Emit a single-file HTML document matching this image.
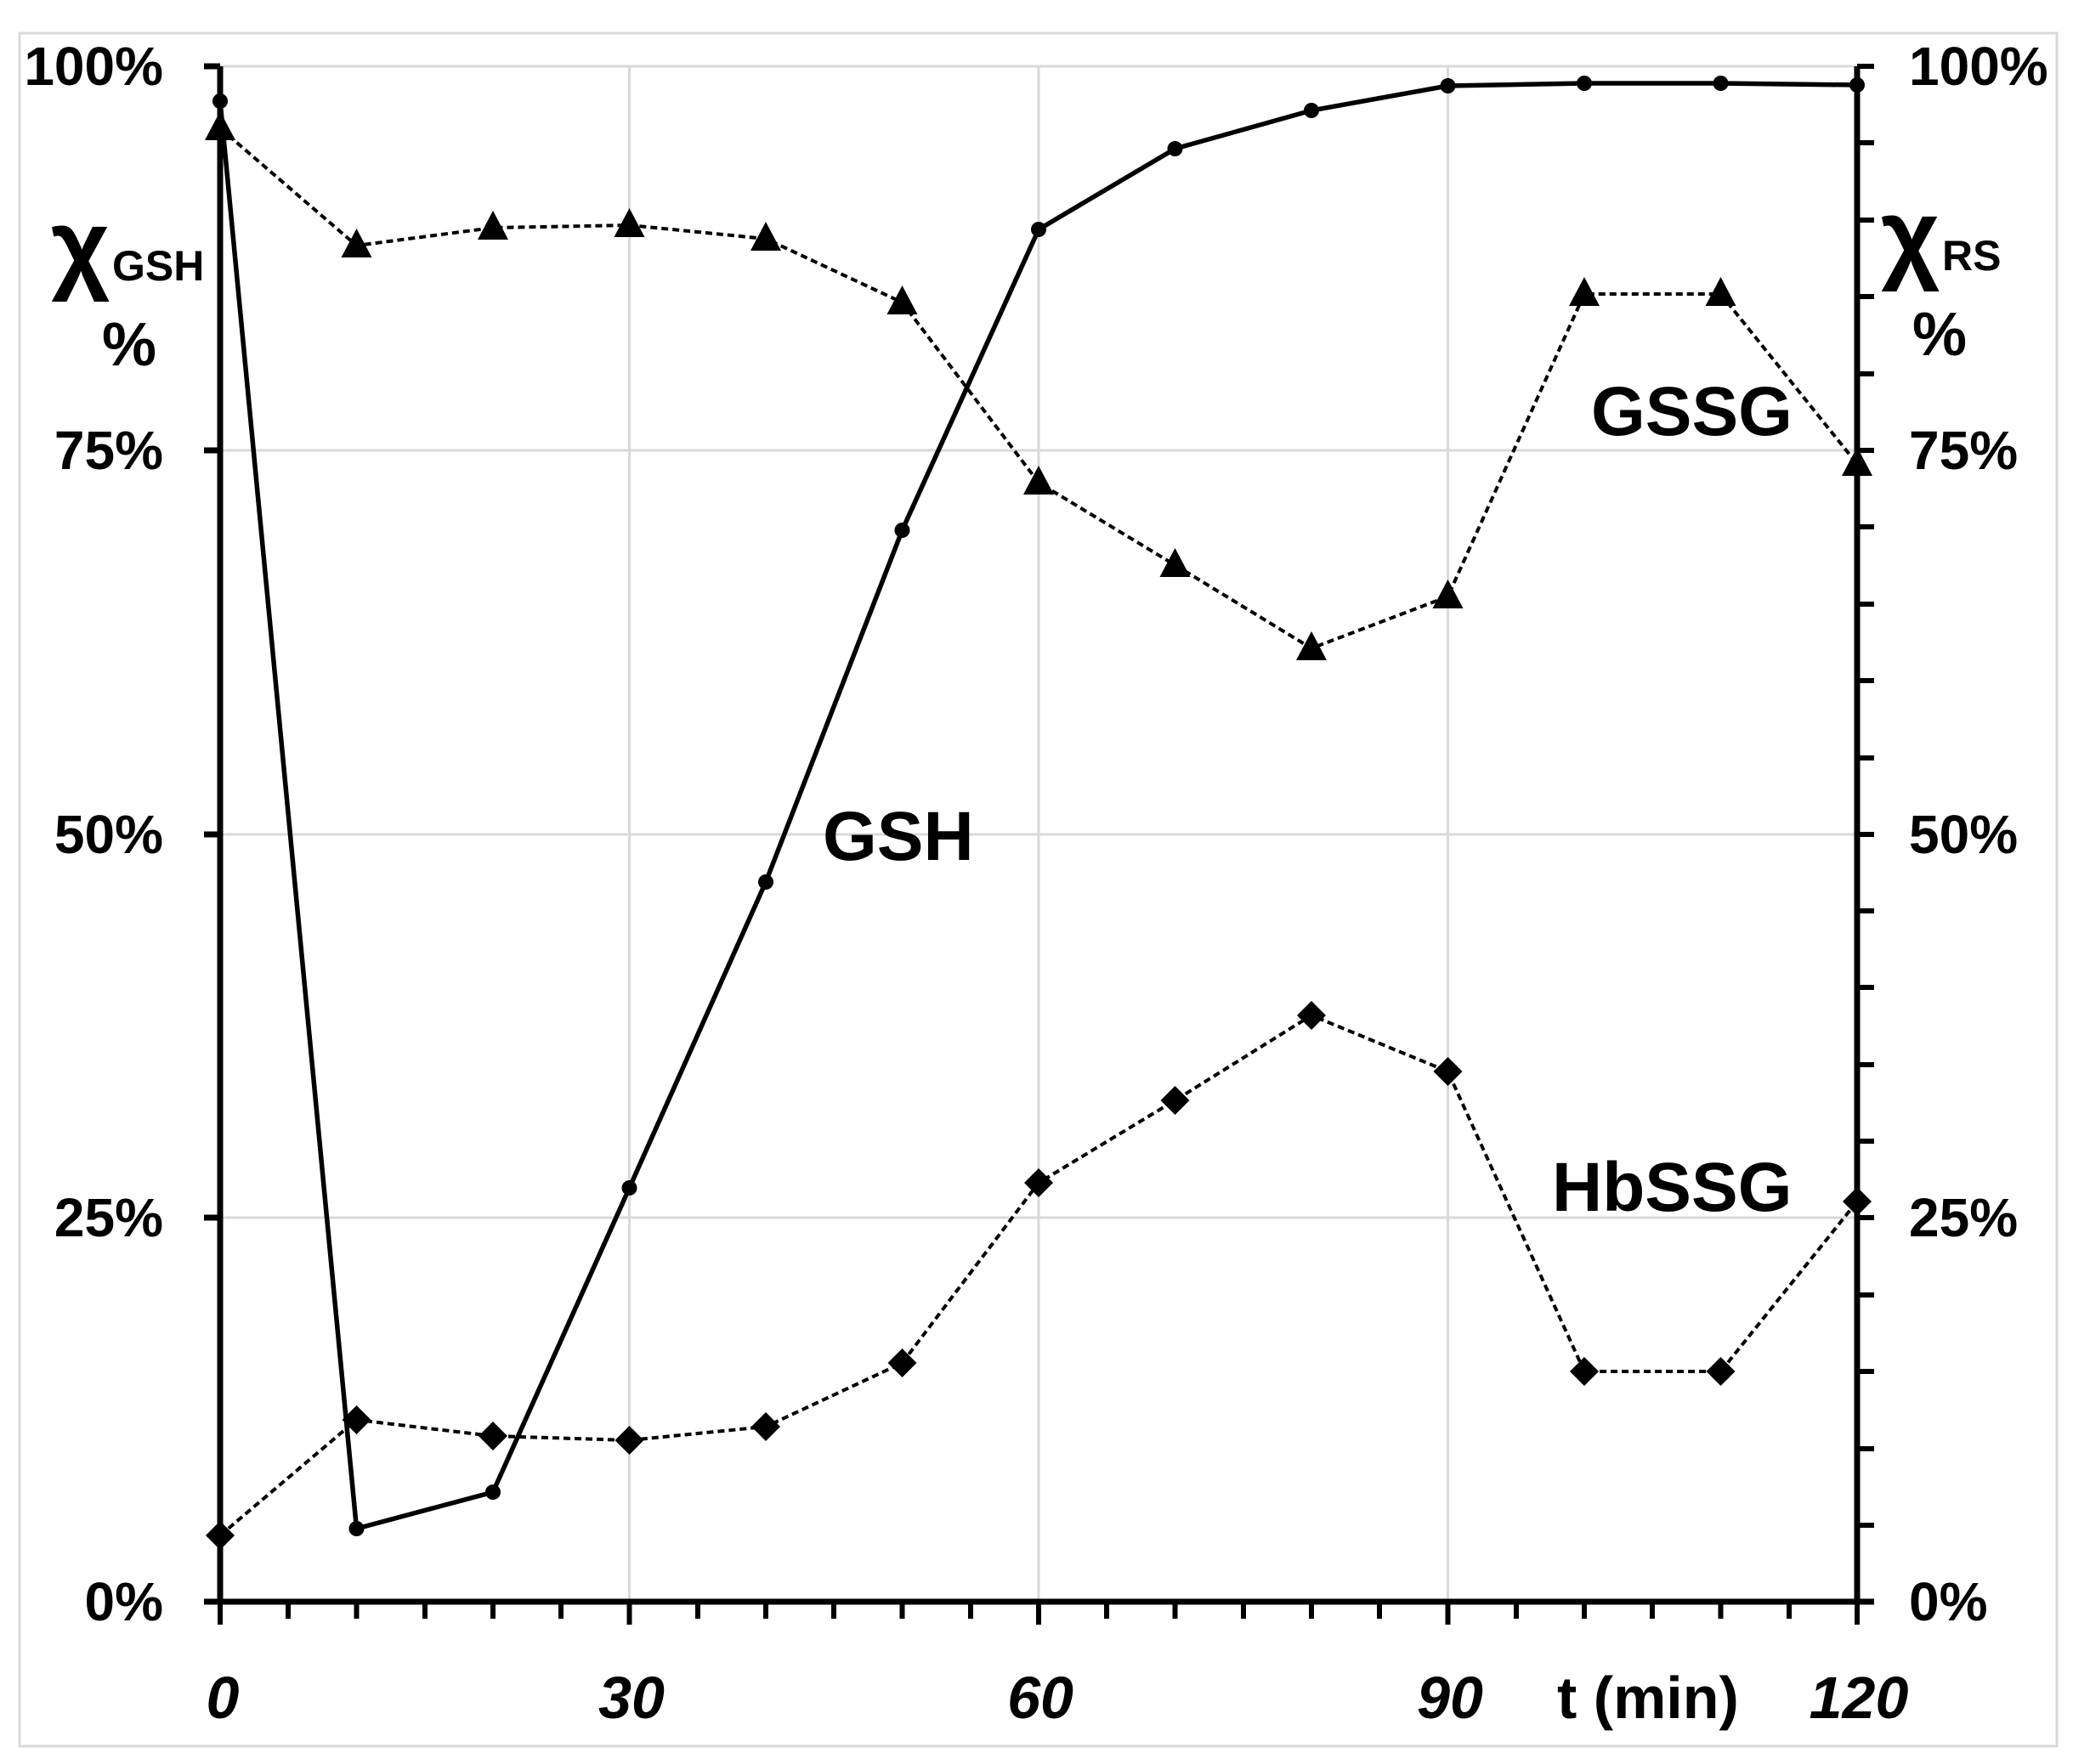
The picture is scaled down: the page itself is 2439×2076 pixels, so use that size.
<!DOCTYPE html>
<html><head><meta charset="utf-8"><style>
html,body{margin:0;padding:0;background:#fff;}
svg{display:block;}
text{font-family:"Liberation Sans",sans-serif;font-weight:bold;fill:#000;}
</style></head><body>
<svg width="2439" height="2076" viewBox="0 0 2439 2076" xmlns="http://www.w3.org/2000/svg">
<rect x="0" y="0" width="2439" height="2076" fill="#fff"/>
<rect x="23" y="39" width="2397" height="2016" fill="none" stroke="#d9d9d9" stroke-width="3"/>
<g stroke="#d9d9d9" stroke-width="3">
<line x1="259" y1="78" x2="2185" y2="78"/>
<line x1="259" y1="530" x2="2185" y2="530"/>
<line x1="259" y1="982" x2="2185" y2="982"/>
<line x1="259" y1="1433" x2="2185" y2="1433"/>
<line x1="740.5" y1="78" x2="740.5" y2="1885"/>
<line x1="1222" y1="78" x2="1222" y2="1885"/>
<line x1="1703.5" y1="78" x2="1703.5" y2="1885"/>
</g>
<g stroke="#000" stroke-width="7" fill="none">
<line x1="259" y1="78" x2="259" y2="1888"/>
<line x1="2185" y1="78" x2="2185" y2="1888"/>
<line x1="256" y1="1885" x2="2205" y2="1885"/>
<line x1="240" y1="78" x2="259" y2="78"/>
<line x1="240" y1="530" x2="259" y2="530"/>
<line x1="240" y1="982" x2="259" y2="982"/>
<line x1="240" y1="1433" x2="259" y2="1433"/>
<line x1="240" y1="1885" x2="259" y2="1885"/>
</g>
<g stroke="#000" stroke-width="6">
<line x1="2185" y1="78" x2="2205" y2="78"/><line x1="2185" y1="168" x2="2205" y2="168"/><line x1="2185" y1="259" x2="2205" y2="259"/><line x1="2185" y1="349" x2="2205" y2="349"/><line x1="2185" y1="440" x2="2205" y2="440"/><line x1="2185" y1="530" x2="2205" y2="530"/><line x1="2185" y1="620" x2="2205" y2="620"/><line x1="2185" y1="711" x2="2205" y2="711"/><line x1="2185" y1="801" x2="2205" y2="801"/><line x1="2185" y1="892" x2="2205" y2="892"/><line x1="2185" y1="982" x2="2205" y2="982"/><line x1="2185" y1="1072" x2="2205" y2="1072"/><line x1="2185" y1="1162" x2="2205" y2="1162"/><line x1="2185" y1="1253" x2="2205" y2="1253"/><line x1="2185" y1="1343" x2="2205" y2="1343"/><line x1="2185" y1="1433" x2="2205" y2="1433"/><line x1="2185" y1="1524" x2="2205" y2="1524"/><line x1="2185" y1="1614" x2="2205" y2="1614"/><line x1="2185" y1="1705" x2="2205" y2="1705"/><line x1="2185" y1="1795" x2="2205" y2="1795"/>
<line x1="259" y1="1885" x2="259" y2="1912"/><line x1="339" y1="1885" x2="339" y2="1905"/><line x1="419.5" y1="1885" x2="419.5" y2="1905"/><line x1="500" y1="1885" x2="500" y2="1905"/><line x1="580" y1="1885" x2="580" y2="1905"/><line x1="660" y1="1885" x2="660" y2="1905"/><line x1="740.5" y1="1885" x2="740.5" y2="1912"/><line x1="821" y1="1885" x2="821" y2="1905"/><line x1="901" y1="1885" x2="901" y2="1905"/><line x1="981" y1="1885" x2="981" y2="1905"/><line x1="1061.5" y1="1885" x2="1061.5" y2="1905"/><line x1="1142" y1="1885" x2="1142" y2="1905"/><line x1="1222" y1="1885" x2="1222" y2="1912"/><line x1="1302" y1="1885" x2="1302" y2="1905"/><line x1="1382.5" y1="1885" x2="1382.5" y2="1905"/><line x1="1463" y1="1885" x2="1463" y2="1905"/><line x1="1543" y1="1885" x2="1543" y2="1905"/><line x1="1623" y1="1885" x2="1623" y2="1905"/><line x1="1703.5" y1="1885" x2="1703.5" y2="1912"/><line x1="1784" y1="1885" x2="1784" y2="1905"/><line x1="1864" y1="1885" x2="1864" y2="1905"/><line x1="1944" y1="1885" x2="1944" y2="1905"/><line x1="2024.5" y1="1885" x2="2024.5" y2="1905"/><line x1="2105" y1="1885" x2="2105" y2="1905"/><line x1="2185" y1="1885" x2="2185" y2="1912"/>
</g>
<polyline fill="none" stroke="#000" stroke-width="4" stroke-dasharray="8,5" points="259,151 419.5,289 580,268 740.5,265 901,281 1061.5,356 1222,568 1382.5,665 1543,763 1703.5,702 1864,346 2024.5,346 2185,546"/>
<polyline fill="none" stroke="#000" stroke-width="4" stroke-dasharray="8,5" points="259,1807 419.5,1671 580,1690 740.5,1695 901,1679 1061.5,1604 1222,1392 1382.5,1295 1543,1195 1703.5,1261 1864,1614 2024.5,1614 2185,1414"/>
<polyline fill="none" stroke="#000" stroke-width="5.5" points="259,119 419.5,1799 580,1756 740.5,1398 901,1038 1061.5,624 1222,270 1382.5,175 1543,130 1703.5,101 1864,98 2024.5,98 2185,100"/>
<g fill="#000">
<circle cx="259" cy="119" r="9"/><circle cx="419.5" cy="1799" r="9"/><circle cx="580" cy="1756" r="9"/><circle cx="740.5" cy="1398" r="9"/><circle cx="901" cy="1038" r="9"/><circle cx="1061.5" cy="624" r="9"/><circle cx="1222" cy="270" r="9"/><circle cx="1382.5" cy="175" r="9"/><circle cx="1543" cy="130" r="9"/><circle cx="1703.5" cy="101" r="9"/><circle cx="1864" cy="98" r="9"/><circle cx="2024.5" cy="98" r="9"/><circle cx="2185" cy="100" r="9"/>
</g>
<g fill="#000">
<path d="M259,131 l-18,34 h36z"/><path d="M419.5,269 l-18,34 h36z"/><path d="M580,248 l-18,34 h36z"/><path d="M740.5,245 l-18,34 h36z"/><path d="M901,261 l-18,34 h36z"/><path d="M1061.5,336 l-18,34 h36z"/><path d="M1222,548 l-18,34 h36z"/><path d="M1382.5,645 l-18,34 h36z"/><path d="M1543,743 l-18,34 h36z"/><path d="M1703.5,682 l-18,34 h36z"/><path d="M1864,326 l-18,34 h36z"/><path d="M2024.5,326 l-18,34 h36z"/><path d="M2185,526 l-18,34 h36z"/>
</g>
<g fill="#000">
<path d="M259,1790 l17,17 l-17,17 l-17,-17z"/><path d="M419.5,1654 l17,17 l-17,17 l-17,-17z"/><path d="M580,1673 l17,17 l-17,17 l-17,-17z"/><path d="M740.5,1678 l17,17 l-17,17 l-17,-17z"/><path d="M901,1662 l17,17 l-17,17 l-17,-17z"/><path d="M1061.5,1587 l17,17 l-17,17 l-17,-17z"/><path d="M1222,1375 l17,17 l-17,17 l-17,-17z"/><path d="M1382.5,1278 l17,17 l-17,17 l-17,-17z"/><path d="M1543,1178 l17,17 l-17,17 l-17,-17z"/><path d="M1703.5,1244 l17,17 l-17,17 l-17,-17z"/><path d="M1864,1597 l17,17 l-17,17 l-17,-17z"/><path d="M2024.5,1597 l17,17 l-17,17 l-17,-17z"/><path d="M2185,1397 l17,17 l-17,17 l-17,-17z"/>
</g>
<g font-size="64">
<text x="192" y="100" text-anchor="end">100%</text>
<text x="192" y="552" text-anchor="end">75%</text>
<text x="192" y="1004" text-anchor="end">50%</text>
<text x="192" y="1455" text-anchor="end">25%</text>
<text x="192" y="1907" text-anchor="end">0%</text>
<text x="2246" y="100">100%</text>
<text x="2246" y="552">75%</text>
<text x="2246" y="1004">50%</text>
<text x="2246" y="1455">25%</text>
<text x="2246" y="1907">0%</text>
</g>
<g font-size="70" font-style="italic">
<text x="262" y="2022" text-anchor="middle">0</text>
<text x="743" y="2022" text-anchor="middle">30</text>
<text x="1224" y="2022" text-anchor="middle">60</text>
<text x="1706" y="2022" text-anchor="middle">90</text>
<text x="2187" y="2022" text-anchor="middle">120</text>
</g>
<text x="1832" y="2022" font-size="70">t (min)</text>
<text x="60" y="330" font-size="120" font-family="DejaVu Sans" font-weight="bold">χ</text>
<text x="132" y="330" font-size="50">GSH</text>
<text x="120" y="430" font-size="72">%</text>
<text x="2213" y="318" font-size="120" font-family="DejaVu Sans" font-weight="bold">χ</text>
<text x="2285" y="318" font-size="50">RS</text>
<text x="2250" y="418" font-size="72">%</text>
<text x="968" y="1012" font-size="82">GSH</text>
<text x="1872" y="512" font-size="82">GSSG</text>
<text x="1826" y="1425" font-size="82">HbSSG</text>
</svg>
</body></html>
